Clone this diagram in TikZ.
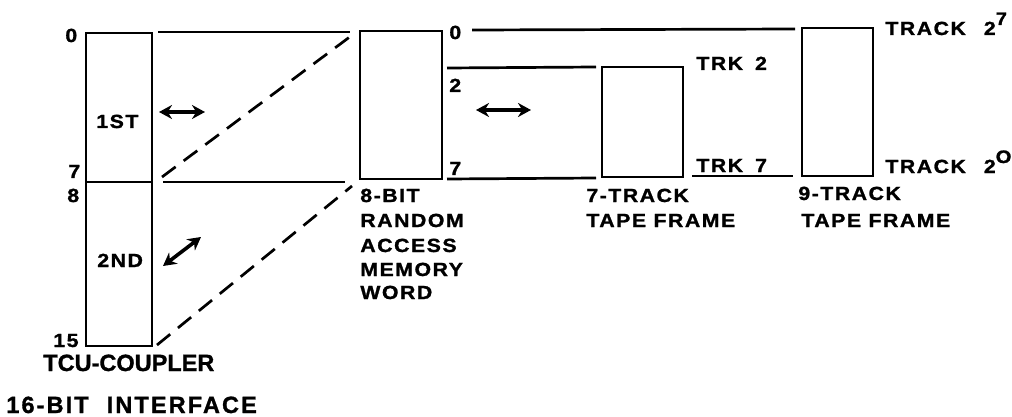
\documentclass[tikz,border=0pt]{standalone}
\usepackage{fontspec}
\newfontfamily\lf{Liberation Sans Bold}[LetterSpace=8,FakeStretch=1.12,FakeBold=1.3]
\newfontfamily\lfb{Liberation Sans Bold}[LetterSpace=9,FakeBold=1.2]
\newfontfamily\lfc{Liberation Sans Bold}[LetterSpace=0,FakeBold=1.2]
\usetikzlibrary{arrows.meta}
\begin{document}
\begin{tikzpicture}[x=1pt,y=-1pt,line width=2.7pt,
  box/.style={draw,line width=2.7pt,inner sep=0pt,outer sep=0pt,anchor=north west},
  lbl/.style={font=\lf\fontsize{19}{21}\selectfont,inner sep=0pt,anchor=base west},
  big/.style={font=\lfb\fontsize{23.5}{25}\selectfont,inner sep=0pt,anchor=base west},
  bigc/.style={font=\lfc\fontsize{23.5}{25}\selectfont,inner sep=0pt,anchor=base west},
  dl/.style={dash pattern=on 17pt off 10pt,line width=2.7pt},
  dbl/.style={{Stealth[length=13pt,width=14pt]}-{Stealth[length=13pt,width=14pt]},line width=3.6pt}]
\useasboundingbox (0,0) rectangle (1012,417);
% boxes
\node[box,minimum width=66pt,minimum height=149pt] (b1) at (86,33) {};
\node[box,minimum width=66pt,minimum height=164pt] (b2) at (86,182) {};
\node[box,minimum width=82pt,minimum height=148pt] (m) at (360,31) {};
\node[box,minimum width=81pt,minimum height=110pt] (s) at (602,67) {};
\node[box,minimum width=71pt,minimum height=148pt] (n) at (802,28) {};
% left labels
\node[lbl] (l0) at (64,42) {0};
\node[lbl] (l7) at (67,178) {7};
\node[lbl] (l8) at (66,202) {8};
\node[lbl] (l15) at (52,347) {15};
\node[lbl] (t1st) at (95,128) {1ST};
\node[lbl] (t2nd) at (96,267) {2ND};
\node[bigc] (tcu) at (42,371) {TCU-COUPLER};
\node[big] (ifc) at (5,413) {16-BIT\hspace{18pt}INTERFACE};
% middle labels
\node[lbl] (m0) at (448,39) {0};
\node[lbl] (m2) at (448,92) {2};
\node[lbl] (m7) at (448,175) {7};
\node[lbl] (mw1) at (359,202) {8-BIT};
\node[lbl] (mw2) at (359,227) {RANDOM};
\node[lbl] (mw3) at (359,252) {ACCESS};
\node[lbl] (mw4) at (359,276) {MEMORY};
\node[lbl] (mw5) at (359,299) {WORD};
% 7-track labels
\node[lbl] (trk2) at (695,70) {TRK\hspace{12pt}2};
\node[lbl] (trk7) at (695,172) {TRK\hspace{12pt}7};
\node[lbl] (s1) at (585,202) {7-TRACK};
\node[lbl] (s2) at (585,227) {TAPE FRAME};
% 9-track labels
\node[lbl] (tr7) at (884,35) {TRACK\hspace{18pt}2\raisebox{10pt}{\fontsize{18}{18}\selectfont 7}};
\node[lbl] (tr0) at (884,173) {TRACK\hspace{18pt}2\raisebox{10pt}{\fontsize{18}{18}\selectfont O}};
\node[lbl] (n1) at (797,200) {9-TRACK};
\node[lbl] (n2) at (800,227) {TAPE FRAME};
% connector points
\coordinate (c1a) at (158,32);  \coordinate (c1b) at (350,32);
\coordinate (c2a) at (163,182); \coordinate (c2b) at (345,182);
\coordinate (d1a) at (162,177); \coordinate (d1b) at (355,33);
\coordinate (d2a) at (157,345); \coordinate (d2b) at (352,186);
\coordinate (r0a) at (472,30);  \coordinate (r0b) at (795,29);
\coordinate (r2a) at (447,68);  \coordinate (r2b) at (596,67);
\coordinate (r7a) at (447,179); \coordinate (r7b) at (596,178);
\coordinate (u7a) at (692,176); \coordinate (u7b) at (793,176);
\coordinate (a1l) at (159,112); \coordinate (a1r) at (205,112);
\coordinate (a2l) at (163,266); \coordinate (a2r) at (201,237);
\coordinate (a3l) at (476,110); \coordinate (a3r) at (531,110);
% connectors
\draw (c1a) -- (c1b);
\draw (c2a) -- (c2b);
\draw[dl] (d1a) -- (d1b);
\draw[dl] (d2a) -- (d2b);
\draw (r0a) -- (r0b);
\draw (r2a) -- (r2b);
\draw (r7a) -- (r7b);
\draw (u7a) -- (u7b);
\draw[dbl] (a1l) -- (a1r);
\draw[dbl] (a2l) -- (a2r);
\draw[dbl] (a3l) -- (a3r);
\end{tikzpicture}
\end{document}
